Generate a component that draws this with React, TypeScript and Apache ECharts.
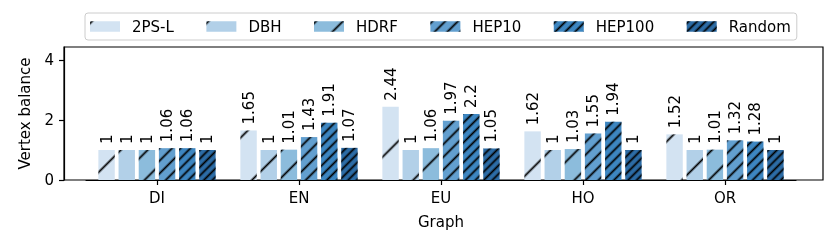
import React, { useEffect, useRef } from "react";
import * as echarts from "echarts";

const categories = ["DI", "EN", "EU", "HO", "OR"];
const seriesNames = ["2PS-L", "DBH", "HDRF", "HEP10", "HEP100", "Random"];
const v2PSL = [1, 1.65, 2.44, 1.62, 1.52];
const vDBH = [1, 1, 1, 1, 1];
const vHDRF = [1, 1.01, 1.06, 1.03, 1.01];
const vHEP10 = [1.06, 1.43, 1.97, 1.55, 1.32];
const vHEP100 = [1.06, 1.91, 2.2, 1.94, 1.28];
const vRandom = [1, 1.07, 1.05, 1, 1];
const yTicks = [0, 2, 4];
const yMax = 4.43;

const seriesValues = [v2PSL, vDBH, vHDRF, vHEP10, vHEP100, vRandom];
const colors = ["#d3e3f2", "#b2d0e8", "#8cbcdc", "#629fcf", "#3d86c1", "#2c6ca6"];
// hatch period (perpendicular, px) per series
const hatchPeriods = [38, 38, 19, 9, 7, 6];

const FONT = "DejaVu Sans";
const HATCH_SYMBOL = "path://M0,0M0,1M0,0.2L1,0.2L1,0.8L0,0.8Z";

export default function App() {
  const ref = useRef<HTMLDivElement>(null);
  useEffect(() => {
    if (!ref.current) return;
    const chart = echarts.init(ref.current, undefined, { renderer: "svg" });
    const series = seriesNames.map((name, i) => ({
      name,
      type: "bar",
      xAxisIndex: 1,
      yAxisIndex: 1,
      data: seriesValues[i],
      barWidth: 16.4,
      barGap: "23%",
      itemStyle: {
        color: colors[i],
        decal: {
          symbol: HATCH_SYMBOL,
          symbolSize: 1,
          symbolKeepAspect: false,
          color: "#000",
          dashArrayX: [[20, 0]],
          dashArrayY: [3, hatchPeriods[i] - 3],
          rotation: -Math.PI / 4,
        },
      },
      label: {
        show: true,
        position: "top",
        rotate: 90,
        align: "left",
        verticalAlign: "middle",
        distance: 6,
        fontSize: 15,
        fontFamily: FONT,
        color: "#000",
      },
    }));
    chart.setOption({
      animation: false,
      textStyle: { fontFamily: FONT },
      legend: {
        left: 85,
        top: 13,
        padding: [6, 6, 6, 5],
        itemGap: 32.5,
        itemWidth: 30,
        itemHeight: 10.5,
        icon: "rect",
        borderColor: "#cccccc",
        borderWidth: 1,
        borderRadius: 3,
        backgroundColor: "rgba(255,255,255,0.8)",
        textStyle: { fontSize: 15, fontFamily: FONT, color: "#000", padding: [0, 0, 0, 7] },
        data: seriesNames,
      },
      grid: [
        { left: 64, right: 7, top: 47, bottom: 69, show: true, borderColor: "#000", borderWidth: 1.2 },
        { left: 86, right: 34, top: 47, bottom: 69 },
      ],
      xAxis: [
        { type: "value", gridIndex: 0, show: false, min: 0, max: 1 },
        {
          type: "category",
          gridIndex: 1,
          data: categories,
          z: 10,
          axisLine: { show: true, lineStyle: { color: "#000", width: 1.2 } },
          axisTick: { show: true, alignWithLabel: true, length: 5, lineStyle: { color: "#000", width: 1.2 } },
          axisLabel: { fontSize: 15, fontFamily: FONT, color: "#000", margin: 10 },
          name: "Graph",
          nameLocation: "middle",
          nameGap: 34,
          nameTextStyle: { fontSize: 15, fontFamily: FONT, color: "#000" },
        },
      ],
      yAxis: [
        {
          type: "value",
          gridIndex: 0,
          min: 0,
          max: yMax,
          interval: 2,
          splitLine: { show: false },
          axisLine: { show: true, lineStyle: { color: "#000", width: 1.2 } },
          axisTick: { show: true, length: 5, customValues: yTicks, lineStyle: { color: "#000", width: 1.2 } },
          axisLabel: { fontSize: 15, fontFamily: FONT, color: "#000", margin: 10, customValues: yTicks },
          name: "Vertex balance",
          nameLocation: "middle",
          nameGap: 32,
          nameTextStyle: { fontSize: 15, fontFamily: FONT, color: "#000" },
        },
        { type: "value", gridIndex: 1, min: 0, max: yMax, show: false, splitLine: { show: false } },
      ],
      series,
    });
    return () => chart.dispose();
  }, []);
  return <div ref={ref} style={{ position: "fixed", left: 0, top: 0, width: 830, height: 249 }} />;
}
